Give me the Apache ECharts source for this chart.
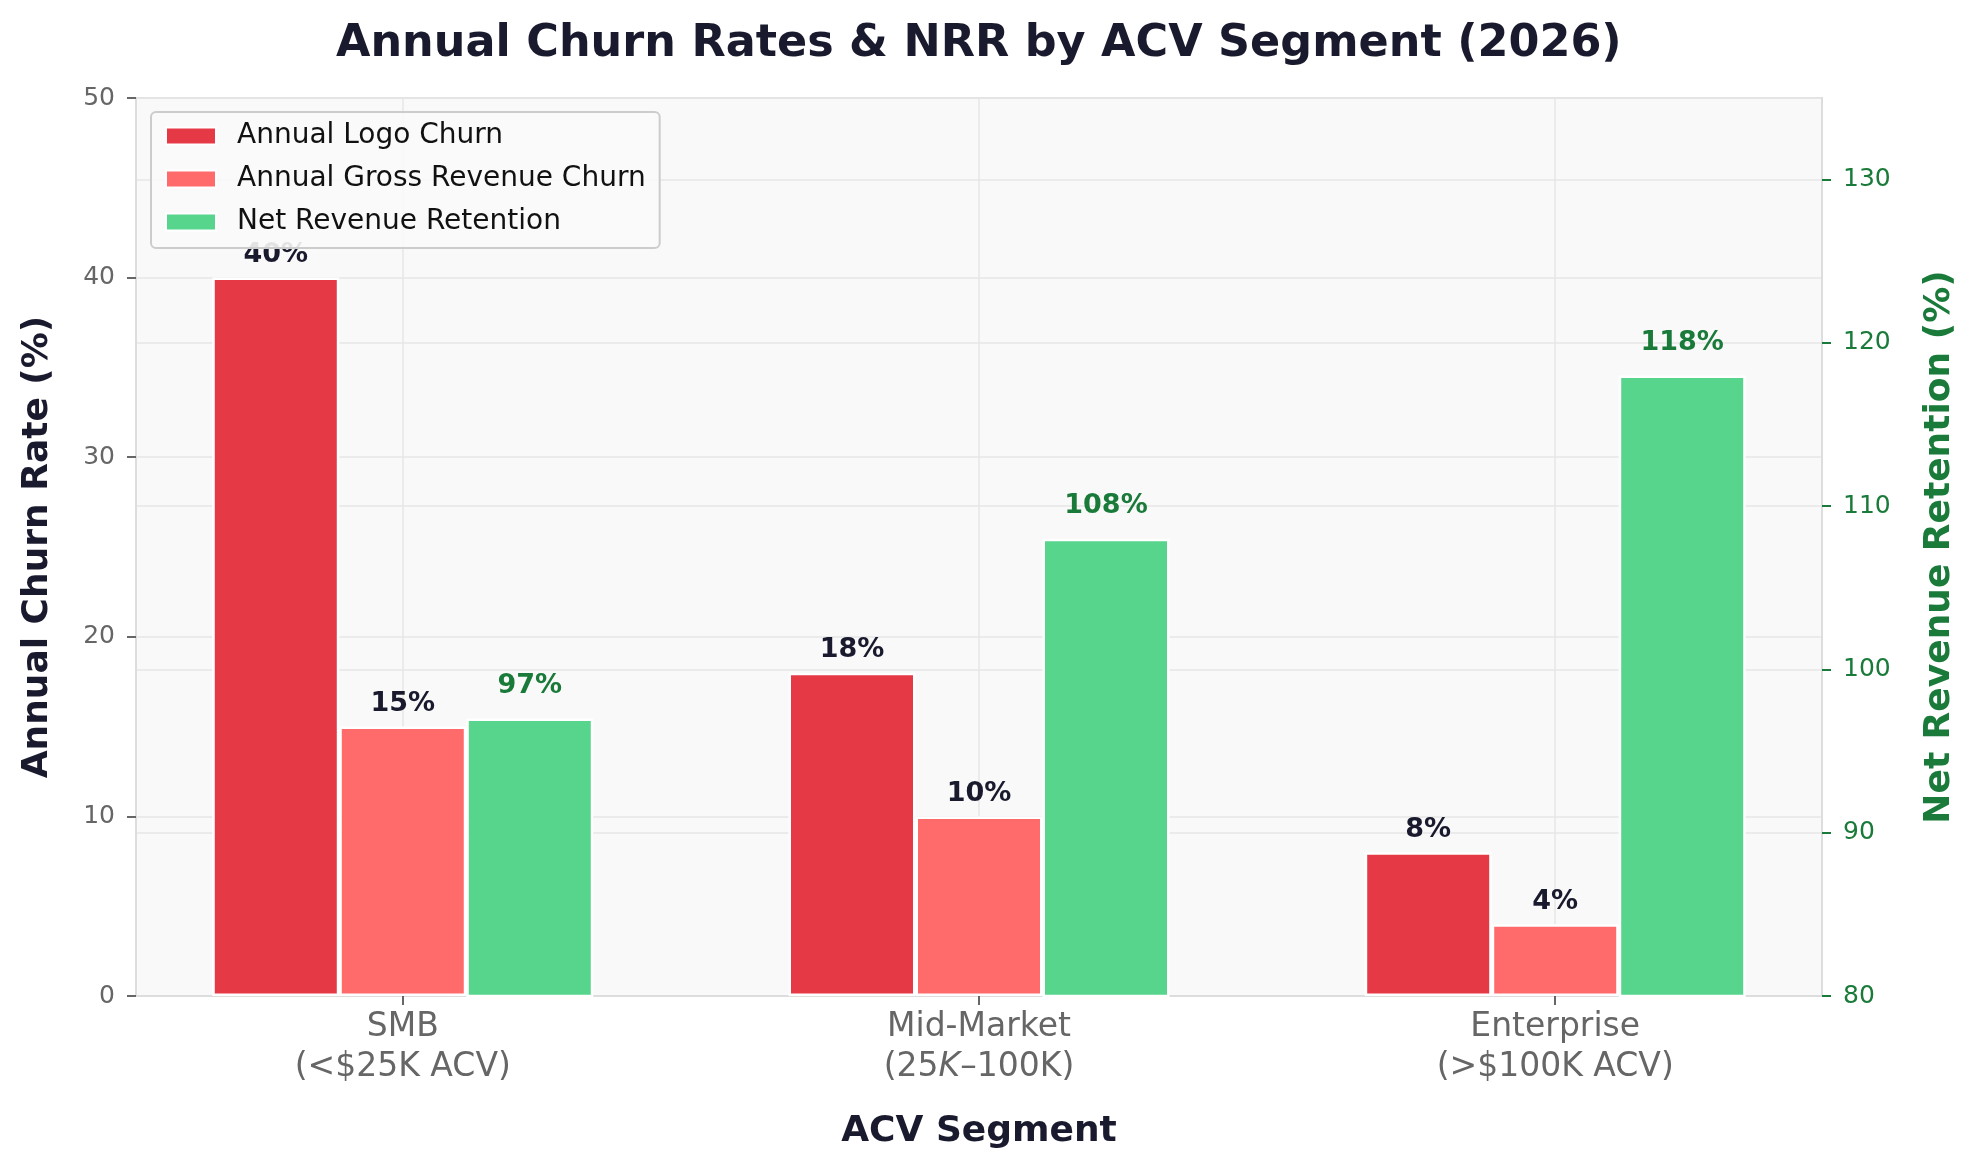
<!DOCTYPE html>
<html>
<head>
<meta charset="utf-8">
<script src="https://cdn.jsdelivr.net/npm/echarts@6/dist/echarts.min.js"></script>
<style>
html, body { margin: 0; padding: 0; background: #fff; }
#chart { width: 1976px; height: 1170px; }
</style>
</head>
<body>
<div id="chart"></div>
<script>
// data
var segments = ['SMB\n(<$25K ACV)', 'Mid-Market\n(25{i|K}–100K)', 'Enterprise\n(>$100K ACV)'];
var logoChurn = [40, 18, 8];
var grossRevChurn = [15, 10, 4];
var nrr = [97, 108, 118];
var churnTicks = [0, 10, 20, 30, 40, 50];
var nrrTicks = [80, 90, 100, 110, 120, 130];
var segIdx = [0, 1, 2];

var dark = '#1a1a2e';
var green = '#1a7a3a';
var font = 'DejaVu Sans';

function pairs(arr) {
    return arr.map(function (v, i) { return [segIdx[i], v]; });
}

function barLabel(color, dist) {
    return {
        show: true,
        position: 'top',
        distance: dist,
        fontFamily: font,
        fontWeight: 'bold',
        fontSize: 27,
        color: color,
        formatter: function (p) { return p.value[1] + '%'; }
    };
}

var chart = echarts.init(document.getElementById('chart'));
var option = {
    backgroundColor: '#ffffff',
    animation: false,
    title: {
        text: 'Annual Churn Rates & NRR by ACV Segment (2026)',
        // centred over the plot area, not the page
        left: 331,
        top: 17,
        textStyle: { fontFamily: font, fontWeight: 'bold', fontSize: 44.5, color: dark }
    },
    legend: {
        orient: 'vertical',
        left: 151,
        top: 112,
        icon: 'rect',
        itemWidth: 50,
        itemHeight: 17,
        itemGap: 15,
        padding: [10, 14, 12, 14],
        backgroundColor: 'rgba(249,249,249,0.9)',
        borderColor: '#cccccc',
        borderWidth: 2,
        borderRadius: 5,
        textStyle: { fontFamily: font, fontSize: 28, color: '#111', lineHeight: 28, padding: [0, 0, 0, 16] },
        data: ['Annual Logo Churn', 'Annual Gross Revenue Churn', 'Net Revenue Retention']
    },
    grid: {
        left: 136,
        right: 154,
        top: 98,
        bottom: 174,
        show: true,
        backgroundColor: '#f9f9f9',
        borderColor: '#dddddd',
        borderWidth: 2
    },
    xAxis: {
        type: 'value',
        min: -0.463,
        max: 2.463,
        name: 'ACV Segment',
        nameLocation: 'middle',
        nameGap: 118,
        nameTextStyle: { fontFamily: font, fontWeight: 'bold', fontSize: 36, color: dark },
        axisLine: { show: true, onZero: false, lineStyle: { color: '#dddddd', width: 2 } },
        axisTick: { show: true, customValues: segIdx, length: 9, lineStyle: { color: '#666', width: 2 } },
        axisLabel: {
            customValues: segIdx,
            margin: 11,
            fontFamily: font,
            fontSize: 33,
            lineHeight: 40,
            color: '#666666',
            formatter: function (v) { return segments[Math.round(v)]; },
            rich: { i: { fontFamily: font, fontSize: 33, lineHeight: 40, fontStyle: 'italic', color: '#666666' } }
        },
        splitLine: { show: true, lineStyle: { color: '#e6e6e6', width: 1.5 } }
    },
    yAxis: [
        {
            type: 'value',
            min: 0,
            max: 50,
            interval: 10,
            name: 'Annual Churn Rate (%)',
            nameLocation: 'middle',
            nameRotate: 90,
            nameGap: 80,
            nameTextStyle: { fontFamily: font, fontWeight: 'bold', fontSize: 36, color: dark },
            axisLine: { show: true, onZero: false, lineStyle: { color: '#dddddd', width: 2 } },
            axisTick: { show: true, customValues: churnTicks, length: 9, lineStyle: { color: '#666', width: 2 } },
            axisLabel: { customValues: churnTicks, margin: 21, fontFamily: font, fontSize: 25, color: '#666666' },
            splitLine: { show: true, lineStyle: { color: '#e6e6e6', width: 1.5 } }
        },
        {
            type: 'value',
            min: 80,
            max: 135,
            interval: 10,
            position: 'right',
            name: 'Net Revenue Retention (%)',
            nameLocation: 'middle',
            nameRotate: 90,
            nameGap: 100,
            nameTextStyle: { fontFamily: font, fontWeight: 'bold', fontSize: 36, color: green },
            axisLine: { show: true, onZero: false, lineStyle: { color: '#dddddd', width: 2 } },
            axisTick: { show: true, customValues: nrrTicks, length: 9, lineStyle: { color: green, width: 2 } },
            axisLabel: { customValues: nrrTicks, margin: 21, fontFamily: font, fontSize: 25, color: green },
            splitLine: { show: true, lineStyle: { color: '#e6e6e6', width: 1.5 } }
        }
    ],
    series: [
        {
            name: 'Annual Logo Churn',
            type: 'bar',
            yAxisIndex: 0,
            barWidth: 127,
            barGap: '0%',
            itemStyle: { color: '#e63946', borderColor: '#ffffff', borderWidth: 2.5 },
            label: barLabel(dark, 9),
            data: pairs(logoChurn)
        },
        {
            name: 'Annual Gross Revenue Churn',
            type: 'bar',
            yAxisIndex: 0,
            barWidth: 127,
            barGap: '0%',
            itemStyle: { color: '#ff6b6b', borderColor: '#ffffff', borderWidth: 2.5 },
            label: barLabel(dark, 9),
            data: pairs(grossRevChurn)
        },
        {
            name: 'Net Revenue Retention',
            type: 'bar',
            yAxisIndex: 1,
            barWidth: 127,
            barGap: '0%',
            itemStyle: { color: '#57d58c', borderColor: '#ffffff', borderWidth: 2.5 },
            label: barLabel(green, 19),
            data: pairs(nrr)
        }
    ]
};
chart.setOption(option);
</script>
</body>
</html>
